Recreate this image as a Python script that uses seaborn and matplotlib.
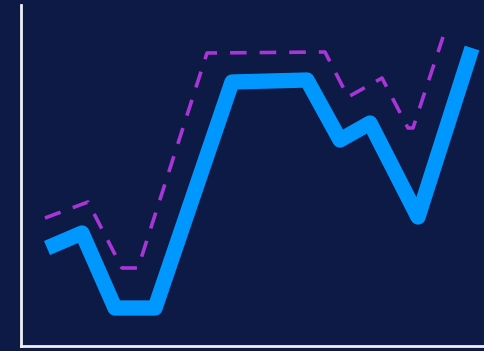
import pandas as pd
import matplotlib.pyplot as plt
import seaborn as sns

# series
solid_x = [26, 61, 94, 134, 211, 286, 319, 349, 397, 451]
solid_y = [98, 113, 38, 38, 264, 266, 206, 223, 129, 298]

dash_x = [24, 67, 101, 117, 186, 304, 327, 361, 387, 392, 422]
dash_y = [128, 144, 78, 78, 293, 294, 249, 268, 218, 218, 309]

bg = '#0c1a45'

sns.set_style('white')
fig = plt.figure(figsize=(4.85, 3.51), dpi=100, facecolor=bg)
ax = fig.add_axes([21 / 485, 5 / 351, 1 - 21 / 485, 341 / 351])
ax.set_facecolor(bg)

df_solid = pd.DataFrame({'x': solid_x, 'y': solid_y})
df_dash = pd.DataFrame({'x': dash_x, 'y': dash_y})

# dashed series
sns.lineplot(data=df_dash, x='x', y='y', ax=ax, sort=False, color='#a835d6',
             linewidth=2.6, dashes=False, estimator=None)
ax.lines[-1].set_dashes((4.6, 3.6))

# thick solid series
sns.lineplot(data=df_solid, x='x', y='y', ax=ax, sort=False, color='#0098ff',
             linewidth=11, estimator=None,
             solid_capstyle='butt', solid_joinstyle='round')

ax.set_xlim(0, 464)
ax.set_ylim(0, 341)
ax.set_xticks([])
ax.set_yticks([])
ax.set_xlabel('')
ax.set_ylabel('')

for s in ['top', 'right']:
    ax.spines[s].set_visible(False)
for s in ['left', 'bottom']:
    ax.spines[s].set_color('#eef0f6')
    ax.spines[s].set_linewidth(2)

fig.savefig('out.png', dpi=100, facecolor=bg)
